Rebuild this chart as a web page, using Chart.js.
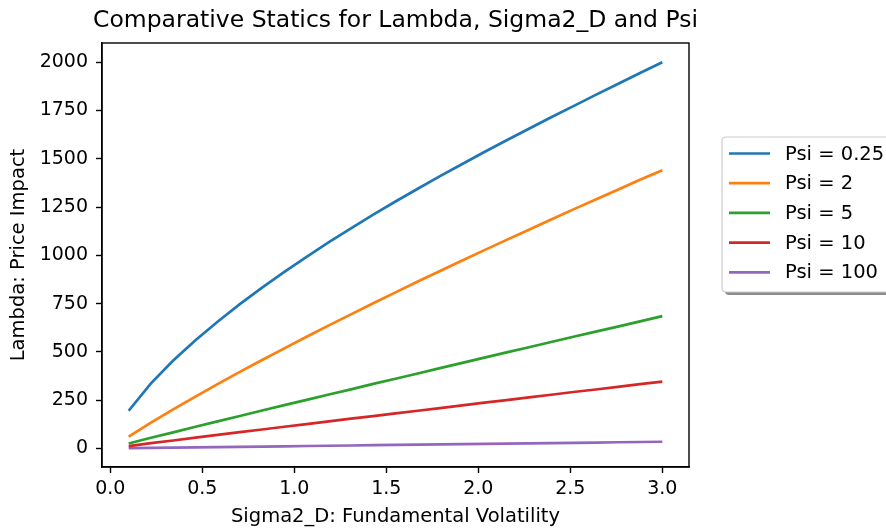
<!DOCTYPE html>
<html>
<head>
<meta charset="utf-8">
<script src="https://cdn.jsdelivr.net/npm/chart.js@4"></script>
<style>
  html, body { margin: 0; padding: 0; background: #fff; }
  canvas { display: block; }
</style>
</head>
<body>
<canvas id="chart" width="886" height="529"></canvas>
<script>
// Sigma2_D grid (x values)
const sigma2D = [0.1, 0.221, 0.342, 0.463, 0.583, 0.704, 0.825, 0.946, 1.067, 1.188, 1.308, 1.429, 1.55,
  1.671, 1.792, 1.913, 2.033, 2.154, 2.275, 2.396, 2.517, 2.638, 2.758, 2.879, 3.0];

const psiLabels = ["Psi = 0.25", "Psi = 2", "Psi = 5", "Psi = 10", "Psi = 100"];

// Lambda values, one array per Psi
const lambdaPsi025 = [195, 337, 455, 560, 656, 747, 833, 914, 992, 1068, 1140, 1211, 1279,
  1345, 1410, 1473, 1535, 1596, 1656, 1715, 1773, 1831, 1887, 1944, 2000];
const lambdaPsi2 = [61, 133, 202, 268, 333, 396, 458, 518, 578, 637, 694, 752, 808,
  864, 919, 973, 1027, 1080, 1133, 1186, 1238, 1289, 1340, 1391, 1441];
const lambdaPsi5 = [25, 55, 83, 112, 140, 168, 196, 224, 251, 279, 306, 334, 361,
  388, 416, 443, 470, 497, 524, 551, 578, 605, 631, 658, 685];
const lambdaPsi10 = [12, 27, 41, 56, 70, 84, 98, 112, 126, 140, 154, 167, 181,
  195, 209, 223, 237, 250, 264, 278, 292, 305, 319, 333, 346];
const lambdaPsi100 = [1.2, 2.5, 3.9, 5.3, 6.7, 8.1, 9.5, 10.9, 12.3, 13.7, 15.0, 16.4, 17.8,
  19.2, 20.6, 22.0, 23.4, 24.8, 26.2, 27.6, 28.9, 30.3, 31.7, 33.1, 34.5];

const xTicks = [0, 0.5, 1.0, 1.5, 2.0, 2.5, 3.0];
const yTicks = [0, 250, 500, 750, 1000, 1250, 1500, 1750, 2000];

const colors = ["#1f77b4", "#ff7f0e", "#2ca02c", "#d62728", "#9467bd"];
const allSeries = [lambdaPsi025, lambdaPsi2, lambdaPsi5, lambdaPsi10, lambdaPsi100];

const FONT = "'DejaVu Sans', sans-serif";

// Title, axis labels, full frame and the shadowed legend
const decorPlugin = {
  id: "decorPlugin",
  afterDraw: chart => {
    const ctx = chart.ctx;
    const area = chart.chartArea;
    ctx.save();

    // frame
    ctx.strokeStyle = "#000";
    ctx.lineWidth = 1.4;
    ctx.strokeRect(area.left, area.top, area.right - area.left, area.bottom - area.top);

    // title
    ctx.fillStyle = "#000";
    ctx.textAlign = "center";
    ctx.textBaseline = "middle";
    ctx.font = "23.5px " + FONT;
    ctx.fillText("Comparative Statics for Lambda, Sigma2_D and Psi", (area.left + area.right) / 2, 21);

    // x label
    ctx.font = "19.5px " + FONT;
    ctx.fillText("Sigma2_D: Fundamental Volatility", (area.left + area.right) / 2, 517);

    // y label
    ctx.save();
    ctx.translate(19, (area.top + area.bottom) / 2);
    ctx.rotate(-Math.PI / 2);
    ctx.fillText("Lambda: Price Impact", 0, 0);
    ctx.restore();

    // legend box with shadow
    const bx = 722, by = 137, bw = 172, bh = 155, r = 4;
    const roundRect = (x, y) => {
      ctx.beginPath();
      ctx.moveTo(x + r, y);
      ctx.lineTo(x + bw - r, y);
      ctx.quadraticCurveTo(x + bw, y, x + bw, y + r);
      ctx.lineTo(x + bw, y + bh - r);
      ctx.quadraticCurveTo(x + bw, y + bh, x + bw - r, y + bh);
      ctx.lineTo(x + r, y + bh);
      ctx.quadraticCurveTo(x, y + bh, x, y + bh - r);
      ctx.lineTo(x, y + r);
      ctx.quadraticCurveTo(x, y, x + r, y);
      ctx.closePath();
    };
    roundRect(bx + 3, by + 3);
    ctx.fillStyle = "#8c8c8c";
    ctx.fill();
    roundRect(bx, by);
    ctx.fillStyle = "#fff";
    ctx.fill();
    ctx.strokeStyle = "#cccccc";
    ctx.lineWidth = 1.2;
    ctx.stroke();

    ctx.textAlign = "left";
    ctx.font = "19.5px " + FONT;
    psiLabels.forEach((label, i) => {
      const y = 153.5 + i * 29.7;
      ctx.strokeStyle = colors[i];
      ctx.lineWidth = 2.7;
      ctx.beginPath();
      ctx.moveTo(729, y);
      ctx.lineTo(770, y);
      ctx.stroke();
      ctx.fillStyle = "#000";
      ctx.fillText(label, 785, y + 1);
    });

    ctx.restore();
  }
};

const ctx = document.getElementById("chart").getContext("2d");

new Chart(ctx, {
  type: "line",
  data: {
    datasets: allSeries.map((values, i) => ({
      label: psiLabels[i],
      data: sigma2D.map((x, j) => ({ x: x, y: values[j] })),
      borderColor: colors[i],
      backgroundColor: colors[i],
      borderWidth: 2.7,
      pointRadius: 0,
      tension: 0,
      fill: false,
    })),
  },
  options: {
    responsive: false,
    animation: false,
    layout: { padding: { top: 43, right: 197, bottom: 0, left: 0 } },
    scales: {
      x: {
        type: "linear",
        min: -0.045,
        max: 3.145,
        afterBuildTicks: scale => { scale.ticks = xTicks.map(v => ({ value: v })); },
        afterFit: scale => { scale.height = 62; },
        grid: { drawOnChartArea: false, drawTicks: true, tickLength: 6, tickColor: "#000", tickWidth: 1.4 },
        border: { display: true, color: "#000", width: 1.4 },
        ticks: {
          color: "#000",
          font: { family: FONT, size: 19 },
          padding: 5,
          maxRotation: 0,
          autoSkip: false,
          callback: value => value.toFixed(1),
        },
      },
      y: {
        type: "linear",
        min: -96.4,
        max: 2099.8,
        afterBuildTicks: scale => { scale.ticks = yTicks.map(v => ({ value: v })); },
        afterFit: scale => { scale.width = 102; },
        grid: { drawOnChartArea: false, drawTicks: true, tickLength: 6, tickColor: "#000", tickWidth: 1.4 },
        border: { display: true, color: "#000", width: 1.4 },
        ticks: {
          color: "#000",
          font: { family: FONT, size: 19 },
          padding: 8,
          autoSkip: false,
          callback: value => String(value),
        },
      },
    },
    plugins: {
      legend: { display: false },
      title: { display: false },
      tooltip: { enabled: false },
    },
  },
  plugins: [decorPlugin],
});
</script>
</body>
</html>
